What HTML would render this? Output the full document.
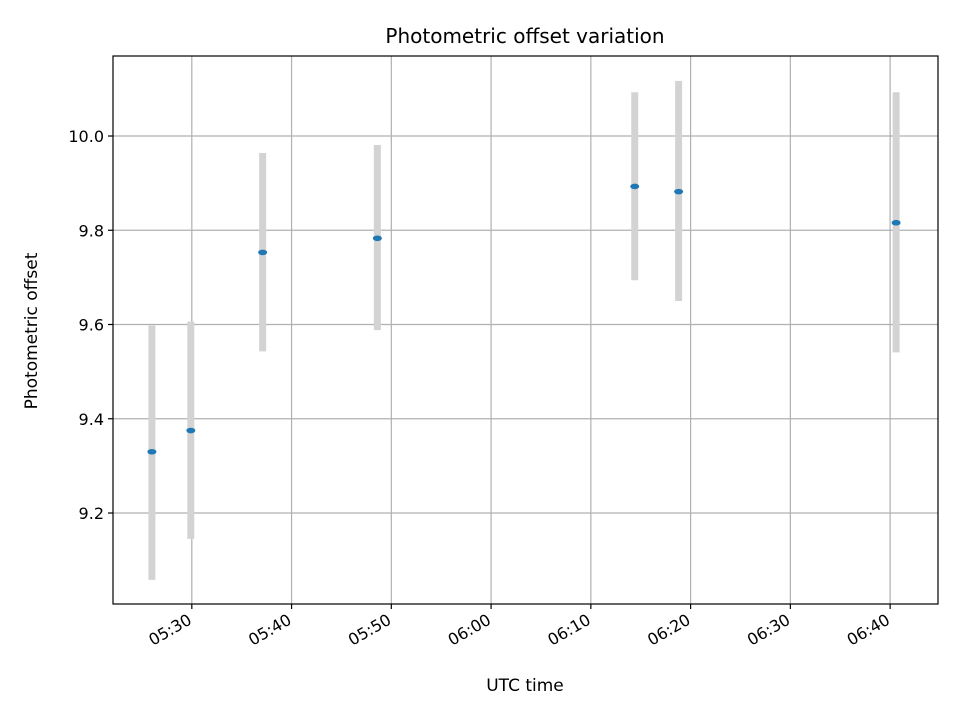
<!DOCTYPE html>
<html><head><meta charset="utf-8"><style>
body{margin:0;background:#fff;}
svg text{font-family:"DejaVu Sans","Liberation Sans",sans-serif;fill:#000;}
</style></head><body>
<svg id="chart" width="960" height="720" viewBox="0 0 960 720">
<rect width="960" height="720" fill="#fff"/>
<g id="grid"></g>
<g id="marks"></g>
<rect x="113" y="56" width="825" height="548" fill="none" stroke="#000" stroke-width="1.2"/>
<g id="axes"></g>
<text x="525" y="43" text-anchor="middle" font-size="20">Photometric offset variation</text>
<text x="525" y="691" text-anchor="middle" font-size="17">UTC time</text>
<text transform="translate(37,331) rotate(-90)" text-anchor="middle" font-size="17">Photometric offset</text>
</svg>
<script>
// minutes after 05:00 UTC
const times = [26.0, 29.9, 37.1, 48.6, 74.4, 78.8, 100.6];
const values = [9.33, 9.375, 9.753, 9.783, 9.893, 9.882, 9.816];
const lowers = [9.058, 9.145, 9.543, 9.588, 9.694, 9.650, 9.541];
const uppers = [9.598, 9.606, 9.964, 9.981, 10.093, 10.117, 10.093];
const xTicks = [30, 40, 50, 60, 70, 80, 90, 100];
const xTickLabels = ["05:30","05:40","05:50","06:00","06:10","06:20","06:30","06:40"];
const yTicks = [9.2, 9.4, 9.6, 9.8, 10.0];
const yTickLabels = ["9.2","9.4","9.6","9.8","10.0"];

const L=113,R=938,T=56,B=604;
const xMin=22.1,xMax=104.8,yMin=9.0069,yMax=10.1698;
const xs=v=>L+(v-xMin)/(xMax-xMin)*(R-L);
const ys=v=>B-(v-yMin)/(yMax-yMin)*(B-T);
const NS="http://www.w3.org/2000/svg";
function mk(tag,attrs,parent){const e=document.createElementNS(NS,tag);for(const k in attrs)e.setAttribute(k,attrs[k]);parent.appendChild(e);return e;}
const grid=document.getElementById('grid'),axes=document.getElementById('axes'),marks=document.getElementById('marks');
xTicks.forEach((t,i)=>{
  const x=xs(t);
  const g=mk('line',{x1:x,x2:x,y1:T,y2:B,stroke:'#b0b0b0','stroke-width':1.2},grid);
  
  
  const tk=mk('line',{x1:x,x2:x,y1:B,y2:B+5,stroke:'#000','stroke-width':1.2},axes);
  
  
  const tx=mk('text',{x:0,y:0,'text-anchor':'end','font-size':16,transform:`translate(${x+1},${B+19}) rotate(-30)`},axes);
  tx.textContent=xTickLabels[i];
  
  
});
yTicks.forEach((t,i)=>{
  const y=ys(t);
  const g=mk('line',{x1:L,x2:R,y1:y,y2:y,stroke:'#b0b0b0','stroke-width':1.2},grid);
  
  
  const tk=mk('line',{x1:L-5,x2:L,y1:y,y2:y,stroke:'#000','stroke-width':1.2},axes);
  
  
  const tx=mk('text',{x:L-9,y:y+6,'text-anchor':'end','font-size':16},axes);
  tx.textContent=yTickLabels[i];
  
  
});
times.forEach((t,i)=>{
  const x=xs(t);
  const eb=mk('line',{x1:x,x2:x,y1:ys(uppers[i]),y2:ys(lowers[i]),stroke:'#d3d3d3','stroke-width':7},marks);
  
  
});
times.forEach((t,i)=>{
  const p=mk('ellipse',{cx:xs(t),cy:ys(values[i]),rx:4.5,ry:2.8,fill:'#1f77b4'},marks);
  
  
});
</script>
</body></html>
